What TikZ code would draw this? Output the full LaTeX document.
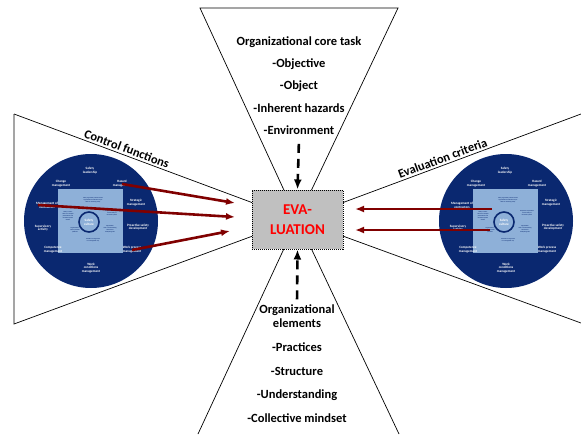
\documentclass[tikz,border=0pt]{standalone}
\usepackage{fontspec}
\setmainfont{Carlito}
\usetikzlibrary{positioning, arrows.meta}
\definecolor{wheelblue}{RGB}{10,40,112}
\definecolor{squareblue}{RGB}{142,176,216}
\definecolor{arrowred}{RGB}{128,0,0}
\definecolor{boxgrey}{RGB}{192,192,192}
\tikzstyle{item}    = [font=\bfseries\fontsize{12.5}{14}\selectfont, inner sep=1pt, align=center]
\tikzstyle{entry}   = [item, text height=9pt, text depth=3pt]
\tikzstyle{evalbox} = [rectangle, minimum width=91pt, minimum height=59pt, draw=black, densely dotted, line width=1pt, fill=boxgrey, text=red, font=\bfseries\fontsize{15}{20}\selectfont, align=center]
\tikzstyle{rim}     = [font=\bfseries\fontsize{3.3}{3.8}\selectfont, text=white, align=center, inner sep=0pt]
\tikzstyle{crit}    = [font=\bfseries\fontsize{1.4}{1.8}\selectfont, text=wheelblue, align=center, inner sep=0pt]
\tikzstyle{feed}    = [-{Latex[length=9pt,width=7pt]}, line width=2.6pt, arrowred]
\tikzstyle{link}    = [-{Latex[length=10pt,width=8pt]}, line width=2.6pt, dash pattern=on 9pt off 6pt]
\tikzstyle{edge}    = [line width=0.7pt]
\tikzset{wheel/.pic={
    \fill[wheelblue] (0,0) circle (67);
    \fill[squareblue] (-33,-32) rectangle (32,32);
    \node[crit] (top) at (2,-21) {Safety is genuinely valued and the\\organisation is motivated to put\\effort on achieving safety};
    \node[crit] (lft) at (-23,-5) {Safety is under-\\stood as a complex\\phenomenon and\\the whole system\\matters};
    \node[crit] (rup) at (21,-8) {People feel responsible\\for the safety of\\the entire system};
    \node[crit] (llo) at (-16,9) {Organisation is\\alert to possible\\problems};
    \node[crit] (rlo) at (19,8) {Organisation\\aims at understanding\\hazards and\\anticipating risks};
    \node[crit] (bot) at (2,19) {Activities are organised\\in a manageable way};
    \node[rim, circle, draw=wheelblue, line width=1.6pt, fill=squareblue, minimum size=20pt] (core) at (-2,1) {Safety\\culture};
    \node[rim] (lead) at (-1,-50) {Safety\\leadership};
    \node[rim] (chg)  at (-30,-37) {Change\\management};
    \node[rim] (haz)  at (31,-37) {Hazard\\management};
    \node[rim] (con)  at (-44,-16) {Management of\\contractors};
    \node[rim] (str)  at (45,-18) {Strategic\\management};
    \node[rim] (sup)  at (-48,7) {Supervisory\\activity};
    \node[rim] (pro)  at (47,6) {Proactive safety\\development};
    \node[rim] (com)  at (-38,29) {Competence\\management};
    \node[rim] (wpm)  at (41,29) {Work process\\management};
    \node[rim] (wcm)  at (0,47) {Work\\conditions\\management};
}}
\begin{document}
\begin{tikzpicture}[x=1pt, y=-1pt, node distance=8pt]
    \useasboundingbox (0,0) rectangle (581,434);
    \coordinate (apex) at (297.5,219.5);

    \draw[edge] (200,8) -- (398,8) -- (apex) -- cycle;
    \draw[edge] (apex) -- (198,434);
    \draw[edge] (apex) -- (399,434);
    \draw[edge] (14,114) -- (apex) node[pos=0.39, sloped, above=1pt, item] (ctrl) {Control functions};
    \draw[edge] (apex) -- (14,324) -- (14,114);
    \draw[edge] (apex) -- (581,114) node[pos=0.52, sloped, above=1pt, item] (crit) {Evaluation criteria};
    \draw[edge] (apex) -- (581,323);

    \pic (L) at (91,221) {wheel};
    \pic (R) at (506,221) {wheel};

    \node[evalbox] (box) at (apex) {EVA-\\LUATION};

    \node[entry] (task) at (299,42) {Organizational core task};
    \node[entry] (obj)  [below=of task] {-Objective};
    \node[entry] (objt) [below=of obj]  {-Object};
    \node[entry] (haz)  [below=of objt] {-Inherent hazards};
    \node[entry] (env)  [below=of haz]  {-Environment};

    \node[item]  (elem) at (297,316) {Organizational\\elements};
    \node[entry] (prac) [below=13pt of elem] {-Practices};
    \node[entry] (stru) [below=9pt of prac] {-Structure};
    \node[entry] (und)  [below=9pt of stru] {-Understanding};
    \node[entry] (mind) [below=9pt of und]  {-Collective mindset};

    \coordinate (in1) at (235,203);
    \coordinate (in2) at (235,217);
    \coordinate (in3) at (230,231);
    \coordinate (out1) at (492,209);
    \coordinate (out2) at (490,230);
    \coordinate (ret1) at (355,209);
    \coordinate (ret2) at (355,230);

    \draw[feed] (Lhaz.center) -- (in1);
    \draw[feed] ([xshift=2pt]Lcon.west) -- (in2);
    \draw[feed] (Lwpm.center) -- (in3);
    \draw[feed] (out1) -- (ret1);
    \draw[feed] (out2) -- (ret2);

    \draw[link, shorten <=5pt] (env.south) -- (box.north);
    \draw[link, shorten <=4pt] (elem.north) -- (box.south);
\end{tikzpicture}
\end{document}
